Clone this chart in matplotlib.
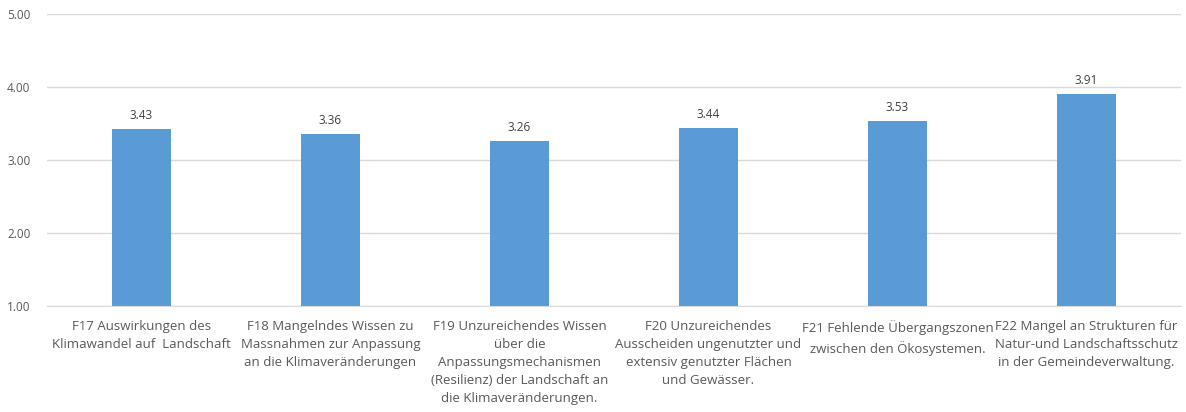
import matplotlib.pyplot as plt

plt.rcParams['font.family'] = ['Open Sans', 'DejaVu Sans']

# Kategorien und Mittelwerte
labels = [
    "F17 Auswirkungen des\nKlimawandel auf  Landschaft",
    "F18 Mangelndes Wissen zu\nMassnahmen zur Anpassung\nan die Klimaveränderungen",
    "F19 Unzureichendes Wissen\nüber die\nAnpassungsmechanismen\n(Resilienz) der Landschaft an\ndie Klimaveränderungen.",
    "F20 Unzureichendes\nAusscheiden ungenutzter und\nextensiv genutzter Flächen\nund Gewässer.",
    "F21 Fehlende Übergangszonen\nzwischen den Ökosystemen.",
    "F22 Mangel an Strukturen für\nNatur-und Landschaftsschutz\nin der Gemeindeverwaltung.",
]
values = [3.43, 3.36, 3.26, 3.44, 3.53, 3.91]

grey = '#595959'

fig = plt.figure(figsize=(11.86, 4.12), dpi=100)
ax = fig.add_axes([47 / 1186, 106 / 412, 1134 / 1186, 292 / 412])

x = range(len(values))
bars = ax.bar(x, values, width=0.31, color='#5b9bd5', zorder=3)

ax.set_ylim(1, 5)
ax.set_xlim(-0.5, len(values) - 0.5)
ax.set_yticks([1, 2, 3, 4, 5])
ax.set_yticklabels([f"{v:.2f}" for v in [1, 2, 3, 4, 5]], fontsize=8.5, color=grey)
ax.grid(axis='y', color='#d9d9d9', linewidth=1, zorder=0)
ax.tick_params(axis='y', length=0, pad=12)
ax.tick_params(axis='x', length=0, pad=10)
ax.set_xticks(list(x))
ax.set_xticklabels(labels, fontsize=9.5, color=grey, linespacing=1.5)

for s in ['top', 'right', 'left']:
    ax.spines[s].set_visible(False)
ax.spines['bottom'].set_color('#d9d9d9')

for b, v in zip(bars, values):
    ax.annotate(f"{v:.2f}", (b.get_x() + b.get_width() / 2, v),
                xytext=(0, 5), textcoords='offset points',
                ha='center', va='bottom', fontsize=8.5, color='#404040')

fig.savefig('out.png', dpi=100)
